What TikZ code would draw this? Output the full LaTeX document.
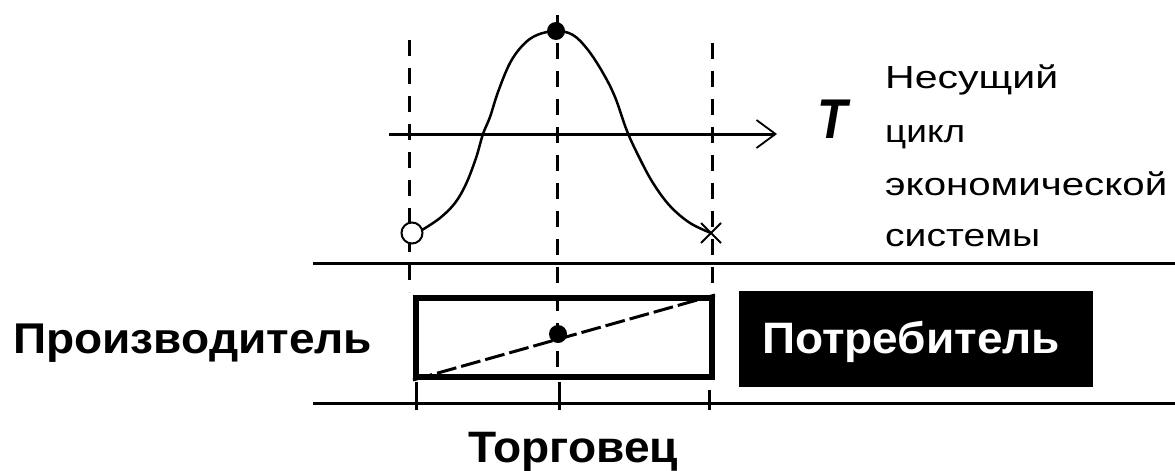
\documentclass[tikz,border=0pt]{standalone}
\usepackage{fontspec}
\setmainfont{Liberation Sans}
\usetikzlibrary{arrows.meta}
\newcommand{\fitw}[3]{\resizebox{#1pt}{\height}{\fontsize{#2pt}{#2pt}\selectfont #3}}
\tikzset{
  hline/.style={line width=3pt},
  guide/.style={line width=3pt, dash pattern=on 16pt off 12pt},
  tick/.style={line width=3pt},
  lbl/.style={inner sep=0pt, anchor=base west},
  curveline/.style={line width=2.5pt, line join=round},
}
\begin{document}
\begin{tikzpicture}[x=1pt,y=-1pt]
\useasboundingbox[fill=white] (0,0) rectangle (1175,471);
% coordinates
\coordinate (hl1a) at (313,263); \coordinate (hl1b) at (1175,263);
\coordinate (hl2a) at (313,403); \coordinate (hl2b) at (1175,403);
\coordinate (axa) at (389,134); \coordinate (axb) at (777,134);
\coordinate (gLt) at (409,40);  \coordinate (gLb) at (409,292);
\coordinate (gCt) at (557,15);  \coordinate (gCb) at (557,380);
\coordinate (gRt) at (712,43);  \coordinate (gRb) at (712,292);
% horizontal lines
\draw[hline] (hl1a) -- (hl1b);
\draw[hline] (hl2a) -- (hl2b);
% axis arrow
\draw[line width=3pt, -{Straight Barb[length=19pt,width=28pt,line width=1.8pt]}] (axa) -- (axb);
% dashed guides
\draw[guide] (gLt) -- (gLb);
\draw[guide] (gCt) -- (gCb);
\draw[guide] (gRt) -- (gRb);
% ticks below rectangle
\coordinate (tLa) at (416,382); \coordinate (tLb) at (416,410);
\coordinate (tCa) at (559,382); \coordinate (tCb) at (559,410);
\coordinate (tRa) at (709,390); \coordinate (tRb) at (709,410);
\draw[tick] (tLa) -- (tLb);
\draw[tick] (tCa) -- (tCb);
\draw[tick] (tRa) -- (tRb);
% curve
\node[circle, draw, line width=2pt, minimum size=21pt, inner sep=0pt, fill=white] (start) at (412,233) {};
\coordinate (peak) at (556,31);
\coordinate (endp) at (711,233);
\draw[curveline] plot[smooth, tension=0.6] coordinates {
 (422,230) (440,218) (455,203) (466,184) (476,158) (483,134) (490,117) (498,92) (510,63) (523,45) (537,35) (556,31)
 (573,35) (588,50) (603,73) (615,97) (627,131) (639,157) (653,183) (670,206) (690,223) (711,233)};
\fill (peak) circle[radius=9pt];
\draw[line width=2pt] ([shift={(-10,-10)}]endp) -- ([shift={(10,10)}]endp)
  ([shift={(-10,10)}]endp) -- ([shift={(10,-10)}]endp);
% rectangle
\node[draw, line width=6pt, inner sep=0pt, minimum width=296pt, minimum height=79pt, anchor=north west] (box) at (413,295) {};
\draw[line width=3pt, dash pattern=on 20pt off 5pt] (box.south west) -- (box.north east);
\fill (558,334) circle[radius=9pt];
% consumer box
\node[fill=black, inner sep=0pt, minimum width=354pt, minimum height=96pt, anchor=north west] (cons) at (739,291) {};
% labels
\node[lbl] (prod) at (13,353) {\fitw{359}{43}{\bfseries Производитель}};
\node[lbl, text=white] (potr) at (762,353) {\fitw{298}{44}{\bfseries Потребитель}};
\node[lbl] (torg) at (468,462) {\fitw{210}{44}{\bfseries Торговец}};
\node[lbl] (T) at (817,138) {\fitw{30}{56}{\bfseries\itshape T}};
\node[lbl] (l1) at (885,88)  {\fitw{173}{32}{Несущий}};
\node[lbl] (l2) at (885,142) {\fitw{80}{32}{цикл}};
\node[lbl] (l3) at (885,195) {\fitw{282}{32}{экономической}};
\node[lbl] (l4) at (885,246) {\fitw{155}{32}{системы}};
\end{tikzpicture}
\end{document}
